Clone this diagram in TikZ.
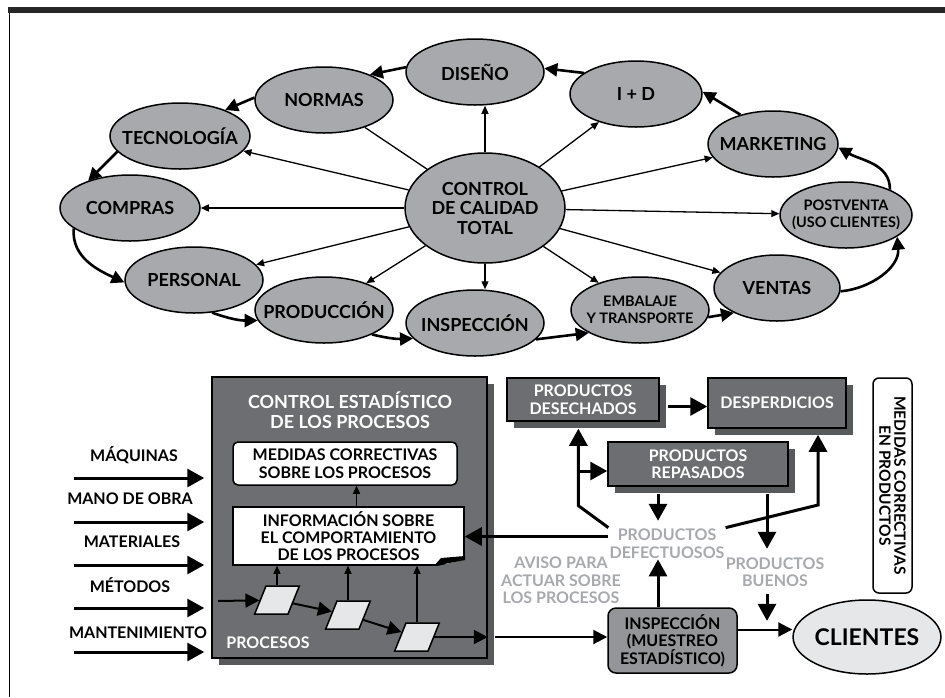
\documentclass[tikz,border=0pt]{standalone}
\usepackage{fontspec}
\setmainfont{Lato}
\usetikzlibrary{shapes.geometric,arrows.meta,shadows}
\definecolor{elgray}{HTML}{A7A9AC}
\definecolor{boxgray}{HTML}{6D6E71}
\definecolor{shgray}{HTML}{58595B}
\definecolor{insgray}{HTML}{939598}
\definecolor{ltgray}{HTML}{E6E7E8}
\definecolor{txgray}{HTML}{A7A9AC}
\tikzstyle{elli}=[ellipse, draw, line width=1.5pt, fill=elgray, inner xsep=-14pt, inner ysep=0pt, minimum width=138pt, minimum height=66pt, align=center, font=\fontsize{18}{19.5}\selectfont\bfseries]
\tikzstyle{ellsm}=[elli, font=\fontsize{14.5}{17}\selectfont\bfseries]
\tikzstyle{spoke}=[line width=1.3pt, -{Triangle[length=8pt,width=7pt]}]
\tikzstyle{cyc}=[line width=2.6pt, -{Triangle[length=13pt,width=13pt]}]
\tikzstyle{fat}=[line width=3pt, -{Triangle[length=17pt,width=18pt]}]
\tikzstyle{mid}=[line width=2pt, -{Triangle[length=14pt,width=14pt]}]
\tikzstyle{darkbox}=[draw, line width=1.5pt, fill=boxgray, text=white, align=center, inner sep=0pt, font=\fontsize{16}{17.5}\selectfont\bfseries, drop shadow={shadow xshift=7pt, shadow yshift=-7pt, fill=shgray, opacity=1}]
\tikzstyle{whitebox}=[draw, line width=1.5pt, fill=white, rounded corners=5pt, align=center, inner sep=0pt, font=\fontsize{16}{18}\selectfont\bfseries]
\tikzstyle{graytext}=[text=txgray, align=center, inner sep=1pt, font=\fontsize{16}{17.5}\selectfont\bfseries]
\tikzstyle{whitetext}=[text=white, align=center, inner sep=0pt, font=\fontsize{18}{19.5}\selectfont\bfseries]
\tikzstyle{inlabel}=[inner sep=0pt, font=\fontsize{16}{18}\selectfont\bfseries]
\tikzstyle{proc}=[trapezium, trapezium left angle=68, trapezium right angle=112, draw, line width=1.5pt, fill=ltgray, inner xsep=11pt, inner ysep=14pt]

\begin{document}
\begin{tikzpicture}[x=1pt, y=-1pt]
\useasboundingbox (0,0) rectangle (945,697);
% Frame
    \fill[black!85] (8,7) rectangle (945,13);
    \draw[line width=0.8pt] (9,13) -- (9,697);
% Total quality ring
    \node[elli, minimum width=160pt, minimum height=110pt] (ctq) at (485,208) {CONTROL\\DE CALIDAD\\TOTAL};
    \node[elli] (dis) at (475,72) {DISEÑO};
    \node[elli] (nor) at (324,100) {NORMAS};
    \node[elli, minimum width=140pt] (tec) at (180,136) {TECNOLOGÍA};
    \node[elli, minimum width=140pt] (com) at (130,208) {COMPRAS};
    \node[elli] (per) at (194,280) {PERSONAL};
    \node[elli] (pro) at (324,310) {PRODUCCIÓN};
    \node[elli] (ins) at (475,323) {INSPECCIÓN};
    \node[ellsm] (emb) at (640,310) {EMBALAJE\\Y TRANSPORTE};
    \node[elli, minimum width=126pt] (ven) at (777,288) {VENTAS};
    \node[ellsm, minimum width=132pt] (pst) at (846,215) {POSTVENTA\\(USO CLIENTES)};
    \node[elli, minimum width=130pt] (mkt) at (773,144) {MARKETING};
    \node[elli, minimum width=132pt] (ide) at (636,94) {I + D};
% Spokes
    \draw[spoke] (ctq.north) -- (ctq.north |- dis.south);
    \draw[spoke] (ctq.south) -- (ctq.south |- ins.north);
    \foreach \n in {ide,mkt,pst,ven,emb,pro,per,com,tec}
        \draw[spoke] (ctq) -- (\n);
    \draw[line width=1.3pt] (ctq) -- (nor);
% Ring arrows
    \draw[cyc] (dis.176) -- (nor.29);
    \draw[cyc] (nor.178) -- (tec.30);
    \draw[cyc] (tec.194) -- (com.147);
    \draw[cyc] (com.200) to[out=-95,in=155] (per.182);
    \draw[cyc] (per.-61) to[bend right=10] (pro.189);
    \draw[cyc] (pro.-27) to[bend right=8] (ins.194);
    \draw[cyc] (ins.-15) -- (emb.204);
    \draw[cyc] (emb.-6) -- (ven.210);
    \draw[cyc] (ven.-3) to[out=5,in=-85] (pst.-23);
    \draw[cyc] (pst.30) to[out=90,in=-30] (mkt.-3);
    \draw[cyc] (mkt.138) -- (ide.2);
    \draw[cyc] (ide.158) -- (dis.3);
% Statistical process control
    \node[darkbox, minimum width=275pt, minimum height=281pt] (cep) at (349.5,517.5) {};
    \node[whitetext] (ceptit) at (350,410) {CONTROL ESTADÍSTICO\\DE LOS PROCESOS};
    \node[whitebox, minimum width=224pt, minimum height=43pt] (med) at (345,463.5) {MEDIDAS CORRECTIVAS\\SOBRE LOS PROCESOS};
    \node[whitebox, rounded corners=0pt, minimum width=231pt, minimum height=58pt, font=\fontsize{16}{17}\selectfont\bfseries] (inf) at (348.5,536) {INFORMACIÓN SOBRE\\EL COMPORTAMIENTO\\DE LOS PROCESOS};
    \fill[boxgray] (434,567) -- (467,567) -- (467,559) -- cycle;
    \fill (434,566) -- (441,558) -- (465,556) -- (465,560) -- cycle;
    \draw[spoke] ([xshift=8pt]inf.north) -- ([xshift=8pt]inf.north |- med.south);
    \node[proc] (p1) at (277,600) {};
    \node[proc] (p2) at (348,615) {};
    \node[proc] (p3) at (417,637) {};
    \node[whitetext, font=\fontsize{16}{18}\selectfont\bfseries] (prc) at (268,643) {PROCESOS};
    \coordinate (pin) at (218,601);
    \draw[mid] (pin) -- (p1);
    \draw[mid] (p1) -- (p2);
    \draw[mid] (p2) -- (p3);
    \draw[mid] (p3) -- (p3 -| cep.east);
    \foreach \p in {p1,p2,p3}
        \draw[spoke] (\p.north) -- (\p.north |- inf.south);
% Inputs
    \node[inlabel] (maq) at (134,455) {MÁQUINAS};
    \node[inlabel] (mob) at (130,499) {MANO DE OBRA};
    \node[inlabel] (mat) at (132,542) {MATERIALES};
    \node[inlabel] (met) at (130,585) {MÉTODOS};
    \node[inlabel] (man) at (138,633) {MANTENIMIENTO};
    \foreach \y [count=\i] in {478,522,565,608,652} {
        \coordinate (in\i) at (74,\y);
        \draw[fat, shorten >=7pt] (in\i) -- (in\i -| cep.west);
    }
% Products
    \node[darkbox, minimum width=152pt, minimum height=43pt] (des) at (583,399.5) {PRODUCTOS\\DESECHADOS};
    \node[darkbox, minimum width=138pt, minimum height=50pt] (dsp) at (777,403) {DESPERDICIOS};
    \node[darkbox, minimum width=180pt, minimum height=44pt] (rep) at (698,464) {PRODUCTOS\\REPASADOS};
    \node[whitebox, rounded corners=6pt, rotate=-90, minimum width=215pt, minimum height=39pt, font=\fontsize{15.5}{15}\selectfont\bfseries] (mcp) at (892.5,485.5) {MEDIDAS CORRECTIVAS\\EN PRODUCTOS};
    \node[graytext] (defe) at (667,543.5) {PRODUCTOS\\DEFECTUOSOS};
    \node[graytext] (buen) at (775,572) {PRODUCTOS\\BUENOS};
    \node[graytext] (avis) at (561,580.5) {AVISO PARA\\ACTUAR SOBRE\\LOS PROCESOS};
    \node[whitebox, fill=insgray, rounded corners=8pt, minimum width=129pt, minimum height=65pt, font=\fontsize{16}{17.5}\selectfont\bfseries] (isb) at (672.5,640.5) {INSPECCIÓN\\(MUESTREO\\ESTADÍSTICO)};
    \node[ellipse, draw, line width=1.5pt, fill=ltgray, minimum width=116pt, minimum height=74pt, inner sep=0pt, font=\fontsize{23}{26}\selectfont\bfseries] (cli) at (867,637) {CLIENTES};
% Product flows
    \coordinate (pr) at (p3.east -| cep.east);
    \draw[mid] ([xshift=7pt]pr) -- (pr -| isb.west);
    \draw[mid] ([yshift=11pt]isb.east) -- ([yshift=11pt]isb.east -| cli.west);
    \draw[fat] ([xshift=-14.5pt]isb.north) -- ([xshift=-9pt]defe.south);
    \coordinate (dl) at ([yshift=7pt]defe.west);
    \draw[fat] (dl) -- (dl -| inf.east);
    \coordinate (kl) at ([shift={(-30,-22)}]defe.north west);
    \coordinate (desb) at ([yshift=-7pt]des.south);
    \draw[fat] (defe.north west) -- (kl) -- (kl |- desb);
    \coordinate (repw) at ([yshift=-7pt]rep.west);
    \draw[fat] (kl |- repw) -- (repw);
    \coordinate (kr) at (818,505);
    \coordinate (dspb) at ([yshift=-6pt]dsp.south);
    \draw[fat] (defe.north east) -- (kr) -- (kr |- dspb);
    \coordinate (dese) at ([shift={(8pt,-7pt)}]des.east);
    \draw[fat] (dese) -- (dese -| dsp.west);
    \draw[fat] ([shift={(-40pt,-7pt)}]rep.south) -- ++(0,27);
    \draw[fat] ([shift={(69pt,-7pt)}]rep.south) -- ++(0,55);
    \draw[fat] ([shift={(-8pt,-6pt)}]buen.south) -- ++(0,27);
\end{tikzpicture}
\end{document}
